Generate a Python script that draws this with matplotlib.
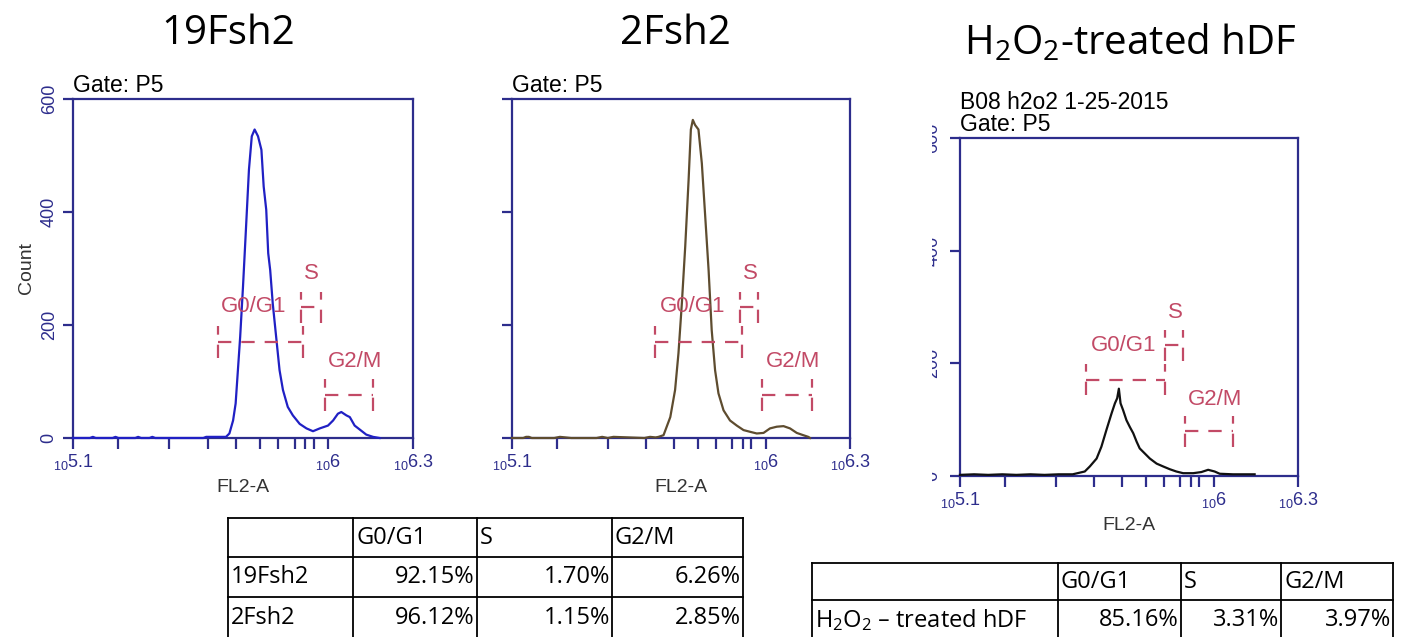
import matplotlib
matplotlib.use("Agg")
import matplotlib.pyplot as plt
from matplotlib.transforms import Bbox, TransformedBbox, blended_transform_factory
import numpy as np

# ---------------------------------------------------------------------------
# DNA content histograms: log10(FL2-A) positions and event counts
# ---------------------------------------------------------------------------
fsh19_log = [5.10, 5.16, 5.17, 5.18, 5.24, 5.25, 5.26, 5.32, 5.33, 5.34, 5.37, 5.38,
             5.39, 5.56, 5.57, 5.64, 5.652, 5.665, 5.674, 5.682, 5.690, 5.700, 5.709,
             5.721, 5.731, 5.741, 5.753, 5.765, 5.773, 5.782, 5.789, 5.796, 5.805,
             5.817, 5.829, 5.841, 5.858, 5.876, 5.900, 5.924, 5.947, 5.971, 6.000,
             6.018, 6.035, 6.047, 6.065, 6.077, 6.094, 6.112, 6.135, 6.159, 6.182]
fsh19_cnt = [0, 0, 2, 0, 0, 2, 0, 0, 2, 0, 0, 2,
             0, 0, 2, 2, 8, 31, 61, 120, 179, 268, 356,
             475, 534, 546, 534, 510, 445, 404, 327, 297, 238,
             179, 120, 85, 55, 40, 25, 17, 12, 17, 22,
             31, 43, 46, 40, 37, 22, 15, 6, 2, 0]

fsh2_log = [5.10, 5.14, 5.15, 5.16, 5.17, 5.25, 5.27, 5.29, 5.31, 5.40, 5.42, 5.44,
            5.46, 5.57, 5.59, 5.61, 5.62, 5.638, 5.662, 5.679, 5.691, 5.703, 5.715,
            5.727, 5.735, 5.742, 5.750, 5.762, 5.774, 5.786, 5.798, 5.809, 5.821,
            5.833, 5.851, 5.874, 5.898, 5.922, 5.945, 5.969, 5.993, 6.016, 6.040,
            6.064, 6.087, 6.111, 6.134, 6.152, 6.158]
fsh2_cnt = [0, 0, 2, 2, 0, 0, 2, 1, 0, 0, 2, 0,
            2, 0, 2, 1, 2, 5, 37, 85, 150, 238, 339,
            457, 546, 563, 554, 546, 486, 392, 297, 191, 120,
            79, 49, 31, 22, 14, 11, 8, 9, 17, 20,
            21, 17, 9, 5, 2, 0]

h2o2_log = [5.10, 5.15, 5.20, 5.25, 5.30, 5.35, 5.40, 5.45, 5.50, 5.543, 5.561,
            5.585, 5.602, 5.620, 5.638, 5.650, 5.658, 5.664, 5.670, 5.679, 5.691,
            5.703, 5.715, 5.727, 5.738, 5.756, 5.774, 5.798, 5.821, 5.845, 5.868,
            5.892, 5.928, 5.957, 5.981, 6.004, 6.022, 6.069, 6.146]
h2o2_cnt = [2, 3, 2, 3, 2, 3, 2, 3, 3, 8, 17,
            31, 52, 82, 111, 129, 138, 155, 129, 117, 99,
            87, 76, 61, 49, 40, 31, 22, 17, 12, 8,
            5, 5, 7, 11, 8, 4, 3, 3]

# Cell-cycle gates: (low log10, high log10, count level)
fsh19_gates = {"G0/G1": (5.612, 5.912, 170), "S": (5.906, 5.977, 231), "G2/M": (5.988, 6.159, 76)}
fsh2_gates = {"G0/G1": (5.608, 5.916, 170), "S": (5.910, 5.975, 231), "G2/M": (5.987, 6.164, 76)}
h2o2_gates = {"G0/G1": (5.547, 5.827, 171), "S": (5.827, 5.892, 232), "G2/M": (5.898, 6.069, 79)}

# Gate label anchor points (log10 position, count)
fsh19_gate_labels = {"G0/G1": (5.738, 232), "S": (5.941, 291), "G2/M": (6.094, 135)}
fsh2_gate_labels = {"G0/G1": (5.741, 232), "S": (5.945, 291), "G2/M": (6.099, 135)}
h2o2_gate_labels = {"G0/G1": (5.682, 232), "S": (5.866, 291), "G2/M": (6.007, 135)}

# Axis ticks
x_major_log = [5.1, 6.0, 6.3]
x_major_text = ["5.1", "6", "6.3"]
x_minor_log = [5.258, 5.440, 5.575, 5.675, 5.760, 5.825, 5.882, 5.920, 5.950]
y_ticks = [0, 200, 400, 600]

# Phase distribution tables (%)
table_cols = ["G0/G1", "S", "G2/M"]
fsh_rows = ["19Fsh2", "2Fsh2"]
fsh_g0g1 = [92.15, 96.12]
fsh_s = [1.70, 1.15]
fsh_g2m = [6.26, 2.85]
hdf_row = ["H$\\mathregular{_2}$O$\\mathregular{_2}$ \u2013 treated hDF"]
hdf_g0g1 = [85.16]
hdf_s = [3.31]
hdf_g2m = [3.97]

titles = ["19Fsh2", "2Fsh2", "H$\\mathregular{_2}$O$\\mathregular{_2}$-treated hDF"]

# ---------------------------------------------------------------------------
W, H = 1402, 637
fig = plt.figure(figsize=(W / 100, H / 100), dpi=100)
fig.patch.set_facecolor("white")

NAVY = "#2d2d8c"
GATE = "#c24a66"
ARIAL = "Liberation Sans"
BODY = "Open Sans"
TICK_FS = 13


def px_axes(x0, y0, x1, y1):
    return fig.add_axes([x0 / W, 1 - y1 / H, (x1 - x0) / W, (y1 - y0) / H])


def draw_gate(ax, lo, hi, level, half=28):
    xs = [10 ** lo, 10 ** hi]
    dash = dict(color=GATE, lw=1.6, ls=(0, (6, 4.5)), zorder=4)
    ax.plot(xs, [level, level], **dash)
    for xv in xs:
        ax.plot([xv, xv], [level - half, level + half], **dash)


def flow_panel(ax, logs, counts, color, gates, labels, show_ylabels=True, ylab=False):
    ax.set_xscale("log")
    ax.set_xlim(10 ** 5.1, 10 ** 6.3)
    ax.set_ylim(0, 600)
    ax.plot(10 ** np.asarray(logs), counts, color=color, lw=1.6, zorder=3, clip_on=False)
    for name, (lo, hi, lvl) in gates.items():
        draw_gate(ax, lo, hi, lvl)
    for name, (lx, ly) in labels.items():
        ax.text(10 ** lx, ly, name, color=GATE, fontsize=16, family=ARIAL,
                ha="center", va="center", zorder=5)
    for sp in ax.spines.values():
        sp.set_color(NAVY)
        sp.set_linewidth(1.6)
    ax.set_xticks([10 ** v for v in x_major_log])
    ax.set_xticklabels(["$\\mathregular{_{10}}$" + t for t in x_major_text],
                       family=ARIAL, fontsize=TICK_FS, color=NAVY)
    ax.set_xticks([10 ** v for v in x_minor_log], minor=True)
    ax.tick_params(axis="x", which="both", direction="out", length=8, width=1.6,
                   color=NAVY, pad=2)
    ax.set_yticks(y_ticks)
    if show_ylabels:
        ax.set_yticklabels([str(v) for v in y_ticks], rotation=90, va="center",
                           family=ARIAL, fontsize=TICK_FS, color=NAVY)
    else:
        ax.set_yticklabels([])
    ax.tick_params(axis="y", direction="out", length=7, width=1.6, color=NAVY, pad=4)
    ax.set_xlabel("FL2-A", family=ARIAL, fontsize=14, color="#333333", labelpad=5)
    if ylab:
        ax.set_ylabel("Count", family=ARIAL, fontsize=14, color="#333333", labelpad=4)


ax1 = px_axes(73, 99, 413, 438)
flow_panel(ax1, fsh19_log, fsh19_cnt, "#2020c4", fsh19_gates, fsh19_gate_labels, ylab=True)
ax2 = px_axes(512, 99, 850, 438)
flow_panel(ax2, fsh2_log, fsh2_cnt, "#5e4c2f", fsh2_gates, fsh2_gate_labels, show_ylabels=False)
ax3 = px_axes(960, 138, 1298, 476)
flow_panel(ax3, h2o2_log, h2o2_cnt, "#111111", h2o2_gates, h2o2_gate_labels, show_ylabels=False)

# Panel 3 count labels, trimmed at the left border of the exported plot
clip = TransformedBbox(Bbox.from_extents(932 / W, 0, 1, 1), fig.transFigure)
tr = blended_transform_factory(fig.transFigure, ax3.transData)
for v in y_ticks:
    t = fig.text(933 / W, v, str(v), transform=tr, rotation=90, ha="center", va="center",
                 family=ARIAL, fontsize=TICK_FS, color=NAVY, clip_on=True)
    t.set_clip_box(clip)

# Header lines above each plot
ax1.text(0.0, 1.005, "Gate: P5", transform=ax1.transAxes, family=ARIAL, fontsize=16.5, va="bottom")
ax2.text(0.0, 1.005, "Gate: P5", transform=ax2.transAxes, family=ARIAL, fontsize=16.5, va="bottom")
ax3.text(0.0, 1.005, "B08 h2o2 1-25-2015\nGate: P5", transform=ax3.transAxes,
         family=ARIAL, fontsize=16.5, va="bottom", linespacing=0.95)

# Titles
for x, y, t in zip([228, 675, 1130], [34, 34, 44], titles):
    fig.text(x / W, 1 - y / H, t, family=BODY, fontsize=29, ha="center", va="center")

# ---------------------------------------------------------------------------
# Tables
# ---------------------------------------------------------------------------
tab = fig.add_axes([0, 0, 1, 1], zorder=-1)
tab.set_xlim(0, W)
tab.set_ylim(H, 0)
tab.axis("off")


def draw_table(xe, ye, rows, g0, s, g2, fs=17):
    for x in xe:
        tab.plot([x, x], [ye[0], ye[-1]], color="black", lw=1.3, clip_on=False)
    for y in ye[:-1]:
        tab.plot([xe[0], xe[-1]], [y, y], color="black", lw=1.3)
    hy = (ye[0] + ye[1]) / 2
    for i, c in enumerate(table_cols):
        tab.text(xe[i + 1] + 3, hy, c, family=BODY, fontsize=fs, va="center", ha="left")
    for r, name in enumerate(rows):
        cy = (ye[r + 1] + ye[r + 2]) / 2
        tab.text(xe[0] + 3, cy, name, family=BODY, fontsize=fs, va="center", ha="left")
        for i, val in enumerate([g0[r], s[r], g2[r]]):
            tab.text(xe[i + 2] - 2, cy, f"{val:.2f}%", family=BODY, fontsize=fs,
                     va="center", ha="right")


draw_table([228, 353, 477, 612, 743], [518, 557, 597, 640], fsh_rows, fsh_g0g1, fsh_s, fsh_g2m)
draw_table([812, 1058, 1181, 1281, 1393], [563, 600, 640], hdf_row, hdf_g0g1, hdf_s, hdf_g2m)

fig.savefig("out.png", dpi=100, facecolor="white")
